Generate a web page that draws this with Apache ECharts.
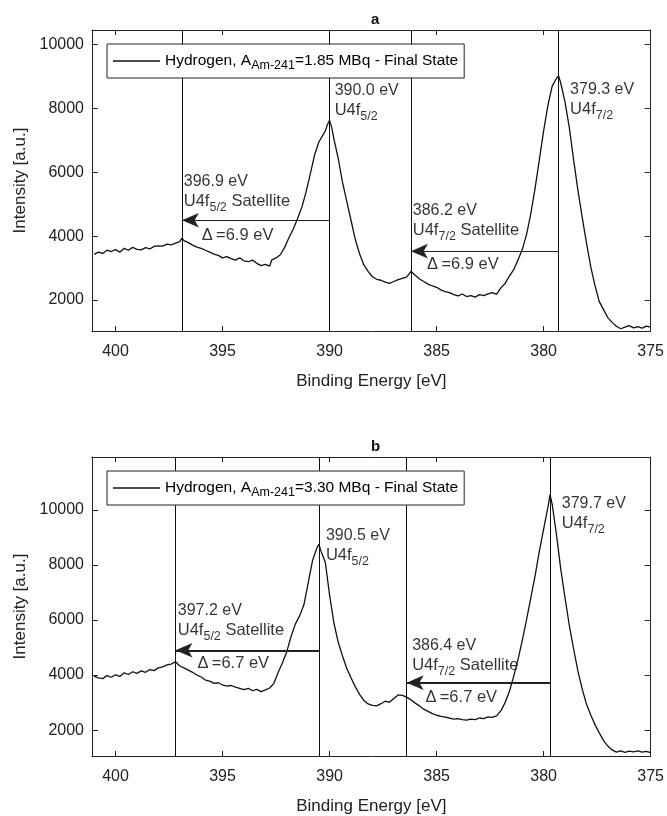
<!DOCTYPE html>
<html><head><meta charset="utf-8">
<script src="https://cdn.jsdelivr.net/npm/echarts@6/dist/echarts.min.js"></script>
<style>html,body{margin:0;padding:0;background:#fff}#c{width:667px;height:816px}</style>
</head><body><div id="c"></div>
<script>
// ---- Data (binding energy [eV], intensity [a.u.]) ----
const spectrumA = [
[401.0,3430],[400.8,3500],[400.6,3460],[400.4,3560],[400.2,3520],[400.0,3580],[399.8,3500],[399.6,3620],[399.4,3560],[399.2,3650],
[399.0,3590],[398.8,3570],[398.6,3640],[398.4,3600],[398.2,3680],[398.0,3700],[397.8,3690],[397.6,3750],[397.4,3730],[397.2,3780],
[397.0,3830],[396.9,3940],[396.8,3860],[396.6,3800],[396.4,3720],[396.2,3660],[396.0,3620],[395.8,3560],[395.6,3500],[395.4,3440],
[395.2,3400],[395.0,3320],[394.8,3360],[394.6,3300],[394.4,3250],[394.2,3320],[394.0,3230],[393.8,3200],[393.6,3250],[393.4,3150],
[393.2,3080],[393.0,3120],[392.8,3060],[392.7,3260],[392.5,3320],[392.3,3420],[392.1,3650],[391.9,3950],[391.7,4220],[391.5,4550],
[391.3,4900],[391.1,5380],[390.9,5950],[390.7,6550],[390.5,6950],[390.3,7180],[390.2,7300],[390.1,7500],[390.0,7630],[389.9,7400],
[389.8,7050],[389.6,6450],[389.4,5700],[389.2,5100],[389.0,4500],[388.8,3900],[388.6,3450],[388.4,3100],[388.2,2900],[388.0,2730],
[387.8,2650],[387.6,2620],[387.4,2560],[387.2,2520],[387.0,2580],[386.8,2640],[386.6,2680],[386.4,2720],[386.2,2900],[386.0,2780],
[385.8,2660],[385.6,2580],[385.4,2500],[385.2,2440],[385.0,2400],[384.8,2320],[384.6,2260],[384.4,2230],[384.2,2170],[384.0,2130],
[383.8,2190],[383.6,2110],[383.4,2140],[383.2,2090],[383.0,2170],[382.8,2140],[382.6,2190],[382.4,2230],[382.2,2180],[382.0,2380],
[381.8,2520],[381.6,2750],[381.4,2950],[381.2,3250],[381.0,3580],[380.8,4050],[380.6,4700],[380.4,5500],[380.2,6400],[380.0,7300],
[379.8,8100],[379.6,8700],[379.4,8950],[379.3,9020],[379.2,8800],[379.0,8200],[378.8,7400],[378.6,6400],[378.4,5450],[378.2,4600],
[378.0,3800],[377.8,3050],[377.6,2450],[377.4,1950],[377.2,1700],[377.0,1450],[376.8,1300],[376.6,1180],[376.4,1100],[376.2,1150],
[376.0,1200],[375.8,1130],[375.6,1170],[375.4,1120],[375.2,1180],[375.0,1150]
];
const spectrumB = [
[401.0,3950],[400.8,3900],[400.6,3870],[400.4,3980],[400.2,3920],[400.0,4010],[399.8,3950],[399.6,4080],[399.4,4020],[399.2,4120],
[399.0,4060],[398.8,4150],[398.6,4100],[398.4,4200],[398.2,4160],[398.0,4260],[397.8,4300],[397.6,4370],[397.4,4400],[397.2,4480],
[397.0,4330],[396.8,4260],[396.6,4180],[396.4,4100],[396.2,4000],[396.0,3930],[395.8,3820],[395.6,3780],[395.4,3700],[395.2,3720],
[395.0,3640],[394.8,3600],[394.6,3620],[394.4,3560],[394.2,3520],[394.0,3470],[393.8,3520],[393.6,3430],[393.4,3480],[393.2,3400],
[393.0,3460],[392.8,3530],[392.6,3700],[392.4,4100],[392.2,4450],[392.0,4850],[391.8,5400],[391.6,5850],[391.4,6150],[391.2,6550],
[391.0,7350],[390.8,8150],[390.6,8600],[390.5,8750],[390.4,8500],[390.2,8100],[390.0,6900],[389.8,5900],[389.6,5200],[389.4,4700],
[389.2,4250],[389.0,3900],[388.8,3580],[388.6,3300],[388.4,3080],[388.2,2950],[388.0,2900],[387.8,2880],[387.6,2960],[387.4,3050],
[387.2,3010],[387.0,3150],[386.8,3280],[386.6,3260],[386.4,3200],[386.2,3100],[386.0,2980],[385.8,2880],[385.6,2760],[385.4,2680],
[385.2,2600],[385.0,2540],[384.8,2500],[384.6,2470],[384.4,2440],[384.2,2400],[384.0,2420],[383.8,2380],[383.6,2360],[383.4,2400],
[383.2,2380],[383.0,2440],[382.8,2420],[382.6,2480],[382.4,2460],[382.2,2520],[382.0,2700],[381.8,3000],[381.6,3400],[381.4,3950],
[381.2,4550],[381.0,5250],[380.8,6000],[380.6,6800],[380.4,7600],[380.2,8500],[380.0,9300],[379.8,10100],[379.7,10550],[379.6,10200],
[379.4,9100],[379.2,7850],[379.0,6800],[378.8,5800],[378.6,4950],[378.4,4150],[378.2,3500],[378.0,2950],[377.8,2550],[377.6,2200],
[377.4,1900],[377.2,1620],[377.0,1420],[376.8,1280],[376.6,1200],[376.4,1250],[376.2,1190],[376.0,1240],[375.8,1210],[375.6,1250],
[375.4,1200],[375.2,1230],[375.0,1180]
];
const xTicks = [375, 380, 385, 390, 395, 400];
const yTicks = [2000, 4000, 6000, 8000, 10000];
const peakLinesA = [396.9, 390.0, 386.2, 379.3];
const peakLinesB = [397.2, 390.5, 386.4, 379.7];
// arrows: [from, to, level]
const arrowsA = [[390.0, 396.9, 4500], [379.3, 386.2, 3530]];
const arrowsB = [[390.5, 397.2, 4900], [379.7, 386.4, 3725]];
// annotations: [energy, intensity, text]
const notesA = [
  [389.74, 8809, '{t|390.0 eV}\n{m|U4f}{s|5/2}'],
  [378.74, 8840, '{t|379.3 eV}\n{m|U4f}{s|7/2}'],
  [396.79, 5948, '{t|396.9 eV}\n{m|U4f}{s|5/2}{m| Satellite}'],
  [386.09, 5030, '{t|386.2 eV}\n{m|U4f}{s|7/2}{m| Satellite}'],
  [395.95, 4310, '{d|Δ\u2009=6.9 eV}'],
  [385.42, 3401, '{d|Δ\u2009=6.9 eV}']
];
const notesB = [
  [390.15, 9327, '{t|390.5 eV}\n{m|U4f}{s|5/2}'],
  [379.13, 10494, '{t|379.7 eV}\n{m|U4f}{s|7/2}'],
  [397.07, 6605, '{t|397.2 eV}\n{m|U4f}{s|5/2}{m| Satellite}'],
  [386.12, 5330, '{t|386.4 eV}\n{m|U4f}{s|7/2}{m| Satellite}'],
  [396.15, 4754, '{d|Δ\u2009=6.7 eV}'],
  [385.5, 3519, '{d|Δ\u2009=6.7 eV}']
];
const nameA = 'Hydrogen, A_Am-241=1.85 MBq - Final State';
const nameB = 'Hydrogen, A_Am-241=3.30 MBq - Final State';
const legendTextA = ['Hydrogen, A', 'Am-241', '=1.85 MBq - Final State'];
const legendTextB = ['Hydrogen, A', 'Am-241', '=3.30 MBq - Final State'];
const yRangeA = [1030, 10460];
const yRangeB = [1060, 11920];
const xRange = [375, 401.1];

// ---- Chart ----
const FONT = 'Liberation Sans, Arial, Helvetica, sans-serif';
const chart = echarts.init(document.getElementById('c'), null, {renderer: 'canvas'});
const rich = {
  t: {fontSize: 16, lineHeight: 16, fontFamily: FONT, color: '#000'},
  m: {fontSize: 16.5, lineHeight: 24, fontFamily: FONT, color: '#000'},
  s: {fontSize: 12.5, lineHeight: 12, padding: [12, 0, 0, 0], fontFamily: FONT, color: '#000'},
  d: {fontSize: 16.5, lineHeight: 20, fontFamily: FONT, color: '#000'}
};
const legRich = {
  t: {fontSize: 15.5, lineHeight: 20, fontFamily: FONT, color: '#000'},
  s: {fontSize: 12.5, lineHeight: 12, padding: [9, 0, 0, 0], fontFamily: FONT, color: '#000'}
};
function xAx(gi, pos, labels) {
  return {
    type: 'value', gridIndex: gi, position: pos, inverse: true, min: xRange[0], max: xRange[1],
    axisLine: {show: true, onZero: false, lineStyle: {color: '#222', width: 1}},
    axisTick: {show: true, inside: true, length: 5, customValues: xTicks, lineStyle: {color: '#222'}},
    axisLabel: {show: labels, customValues: xTicks, margin: 13, fontSize: 16, fontFamily: FONT, color: '#222',
      formatter: v => String(v)},
    splitLine: {show: false},
    name: labels ? 'Binding Energy [eV]' : '', nameLocation: 'middle', nameGap: 42,
    nameTextStyle: {fontSize: 17, fontFamily: FONT, color: '#222'}
  };
}
function yAx(gi, pos, labels, r) {
  return {
    type: 'value', gridIndex: gi, position: pos, min: r[0], max: r[1],
    axisLine: {show: true, onZero: false, lineStyle: {color: '#222', width: 1}},
    axisTick: {show: true, inside: true, length: 6, customValues: yTicks, lineStyle: {color: '#222'}},
    axisLabel: {show: labels, customValues: yTicks, margin: 8, fontSize: 16, fontFamily: FONT, color: '#222',
      formatter: v => String(v)},
    splitLine: {show: false},
    name: labels ? 'Intensity [a.u.]' : '', nameLocation: 'middle', nameGap: 52, nameRotate: 90,
    nameTextStyle: {fontSize: 17, fontFamily: FONT, color: '#222'}
  };
}
function curve(name, data, xi, yi, lines, arrows, arrowWidth) {
  const arrowItems = arrows.map(a => [
    {coord: [a[0], a[2]], symbol: 'none', lineStyle: {width: arrowWidth, color: '#222'}},
    {coord: [a[1], a[2]], symbol: 'arrow', symbolSize: [11, 17], symbolOffset: [0, 0]}
  ]);
  return {
    type: 'line', name: name, data: data, xAxisIndex: xi, yAxisIndex: yi,
    showSymbol: false, symbol: 'none', lineStyle: {color: '#111', width: 1.3}, itemStyle: {color: '#111'},
    animation: false, emphasis: {disabled: true}, silent: true,
    markLine: {
      silent: true, animation: false, symbol: ['none', 'none'],
      label: {show: false}, emphasis: {disabled: true},
      lineStyle: {color: '#111', width: 1, type: 'solid'},
      data: lines.map(v => ({xAxis: v})).concat(arrowItems)
    }
  };
}
function notes(data, xi, yi) {
  return {
    type: 'scatter', xAxisIndex: xi, yAxisIndex: yi, symbolSize: 1, silent: true, animation: false,
    itemStyle: {color: 'rgba(0,0,0,0)'},
    data: data.map(n => ({value: [n[0], n[1]], label: {formatter: n[2]}})),
    label: {show: true, position: [0, 0], align: 'left', verticalAlign: 'top', color: '#000', rich: rich}
  };
}
function legend(name, parts, top) {
  return {
    data: [{name: name, icon: 'rect'}], left: 107, top: top, orient: 'horizontal', z: 50,
    itemWidth: 47, itemHeight: 1.3, padding: [6, 6, 6, 6],
    itemStyle: {color: '#111', borderWidth: 0},
    borderColor: '#222', borderWidth: 1, borderRadius: 0, backgroundColor: '#fff',
    selectedMode: false,
    formatter: () => '{t|' + parts[0] + '}{s|' + parts[1] + '}{t|' + parts[2] + '}',
    textStyle: {rich: legRich}
  };
}
chart.setOption({
  backgroundColor: '#fff',
  animation: false,
  title: [
    {text: 'a', left: 366, top: 7, textStyle: {fontSize: 15, fontWeight: 'bold', fontFamily: FONT, color: '#111'}},
    {text: 'b', left: 366, top: 434, textStyle: {fontSize: 15, fontWeight: 'bold', fontFamily: FONT, color: '#111'}}
  ],
  grid: [
    {left: 92, top: 30, width: 561, height: 301, show: false},
    {left: 92, top: 457, width: 561, height: 301, show: false}
  ],
  xAxis: [xAx(0, 'bottom', true), xAx(0, 'top', false), xAx(1, 'bottom', true), xAx(1, 'top', false)],
  yAxis: [yAx(0, 'left', true, yRangeA), yAx(0, 'right', false, yRangeA), yAx(1, 'left', true, yRangeB), yAx(1, 'right', false, yRangeB)],
  legend: [legend(nameA, legendTextA, 44), legend(nameB, legendTextB, 471)],
  series: [
    curve(nameA, spectrumA, 0, 0, peakLinesA, arrowsA, 1.2),
    curve(nameB, spectrumB, 2, 2, peakLinesB, arrowsB, 2),
    notes(notesA, 0, 0),
    notes(notesB, 2, 2)
  ]
});
</script></body></html>
